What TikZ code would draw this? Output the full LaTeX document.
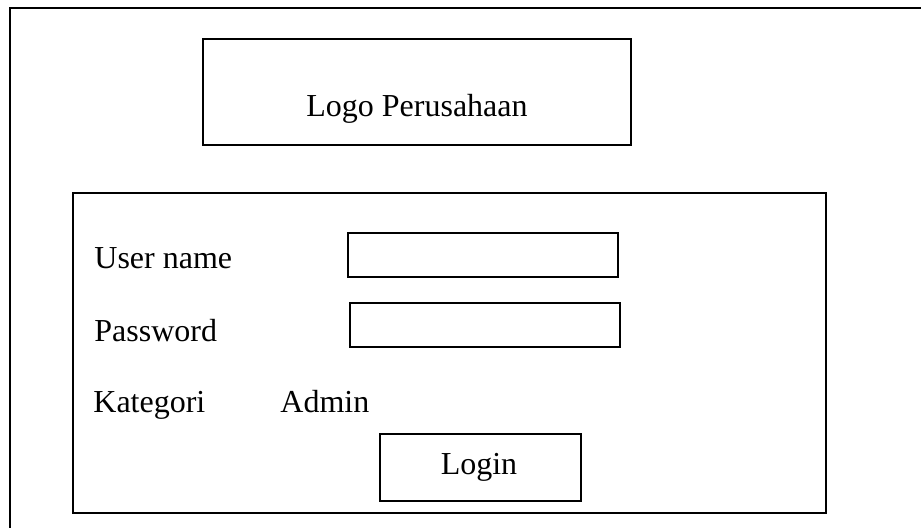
\documentclass[tikz,border=0pt]{standalone}
\usepackage{fontspec}
\setmainfont{Liberation Serif}
\begin{document}
\begin{tikzpicture}[x=0.5pt,y=-0.5pt,
  frame/.style={draw=black,line width=1pt},
  lbl/.style={anchor=base west,inner sep=0pt,font=\fontsize{16}{19}\selectfont},
  ctr/.style={anchor=base,inner sep=0pt,font=\fontsize{16}{19}\selectfont}]
\useasboundingbox (0,0) rectangle (921,528);
\clip (0,0) rectangle (921,528);
% page frame (open to the right and bottom)
\draw[frame] (940,8) -- (10,8) -- (10,540);
% company logo area
\node[frame,minimum width=428*0.5pt,minimum height=106*0.5pt,inner sep=0pt] (logo) at (417,92) {};
\node[ctr] (logotext) at (417,117) {Logo Perusahaan};
% login form
\node[frame,minimum width=753*0.5pt,minimum height=320*0.5pt,inner sep=0pt] (form) at (449.5,353) {};
\node[lbl] (user) at (94,269) {User name};
\node[frame,minimum width=270*0.5pt,minimum height=44*0.5pt,inner sep=0pt] (userbox) at (483,255) {};
\node[lbl] (pass) at (94,342) {Password};
\node[frame,minimum width=270*0.5pt,minimum height=44*0.5pt,inner sep=0pt] (passbox) at (485,325) {};
\node[lbl] (kat) at (93,413) {Kategori};
\node[lbl] (admin) at (280,413) {Admin};
\node[frame,minimum width=201*0.5pt,minimum height=67*0.5pt,inner sep=0pt] (loginbtn) at (480.5,467.5) {};
\node[ctr] (logintext) at (479,475) {Login};
\end{tikzpicture}
\end{document}
